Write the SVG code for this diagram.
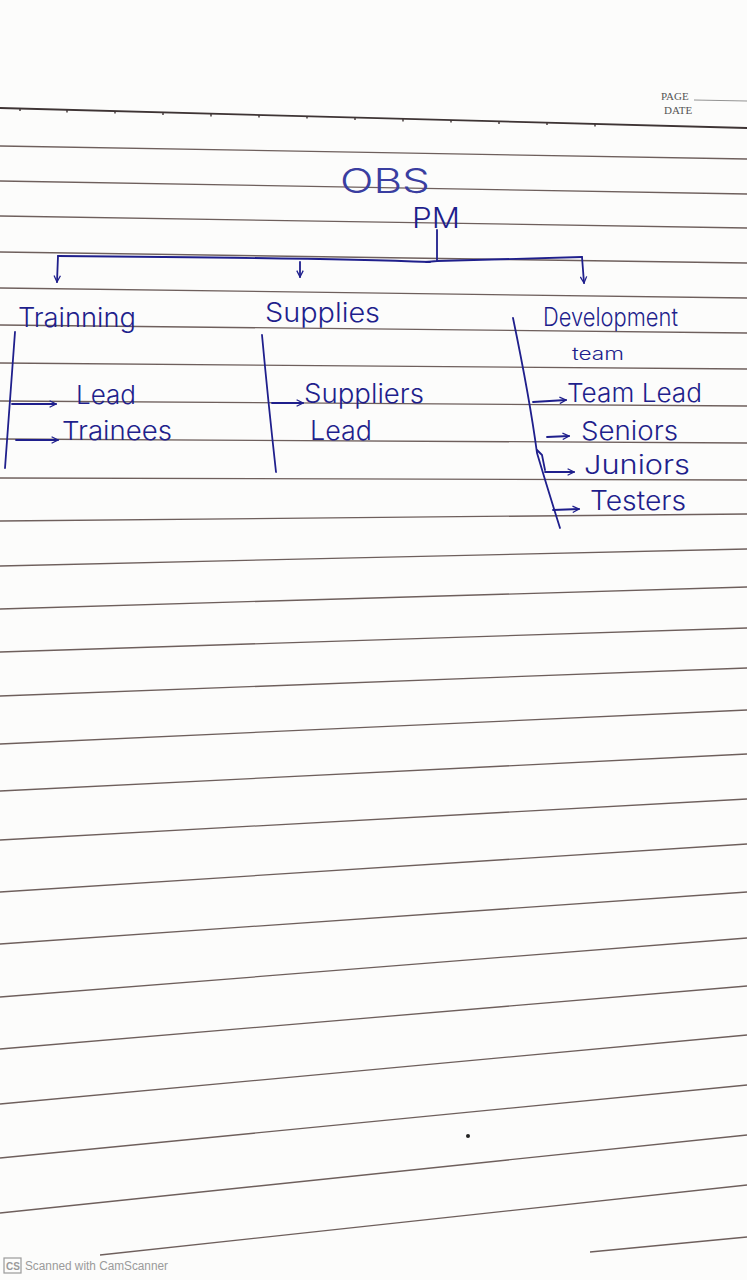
<svg xmlns="http://www.w3.org/2000/svg" width="747" height="1280" viewBox="0 0 747 1280">
<style>
.paper{fill:#fcfcfb}
.rule{stroke:#6e5f5c;stroke-width:1.3;fill:none}
.rule-top{stroke:#3e3434;stroke-width:1.8;fill:none}
.tick{stroke:#3e3434;stroke-width:1.4}
.ink{font-family:Inter,"Open Sans","DejaVu Sans",sans-serif;font-weight:300;fill:#1f1f8c}
.ink-light{font-family:Inter,"Open Sans","DejaVu Sans",sans-serif;font-weight:300;fill:#3a3ea0}
.pen{stroke:#1f1f8c;stroke-width:1.8;fill:none;stroke-linecap:round;stroke-linejoin:round}
.print{font-family:"Liberation Serif",serif;font-size:11px;fill:#555}
.wm{font-family:"Liberation Sans",Arial,sans-serif;fill:#9a9a9a}
</style>
<defs>
<marker id="ah" viewBox="0 0 10 10" refX="9" refY="5" markerWidth="8" markerHeight="8" markerUnits="userSpaceOnUse" orient="auto">
<path d="M1,1 L9,5 L1,9" fill="none" stroke="#1f1f8c" stroke-width="1.6"/>
</marker>
</defs>
<rect class="paper" x="0" y="0" width="747" height="1280"/>

<g id="ruled-lines">
<line class="rule-top" x1="0" y1="108" x2="747" y2="128"/>
<g class="tick">
<line x1="20" y1="108.5" x2="20" y2="111"/><line x1="67" y1="110" x2="67" y2="112.5"/><line x1="115" y1="111" x2="115" y2="113.5"/><line x1="163" y1="112.5" x2="163" y2="115"/><line x1="211" y1="114" x2="211" y2="116.5"/><line x1="259" y1="115" x2="259" y2="117.5"/><line x1="307" y1="116" x2="307" y2="118.5"/><line x1="355" y1="117.5" x2="355" y2="120"/><line x1="403" y1="119" x2="403" y2="121.5"/><line x1="451" y1="120" x2="451" y2="122.5"/><line x1="499" y1="121.5" x2="499" y2="124"/><line x1="547" y1="122.5" x2="547" y2="125"/><line x1="595" y1="124" x2="595" y2="126.5"/>
</g>
<line class="rule" x1="0" y1="146" x2="747" y2="159"/>
<line class="rule" x1="0" y1="181" x2="747" y2="194"/>
<line class="rule" x1="0" y1="216" x2="747" y2="228"/>
<line class="rule" x1="0" y1="252" x2="747" y2="263"/>
<line class="rule" x1="0" y1="288" x2="747" y2="298"/>
<line class="rule" x1="0" y1="325" x2="747" y2="333"/>
<line class="rule" x1="0" y1="363" x2="747" y2="369"/>
<line class="rule" x1="0" y1="401" x2="747" y2="406"/>
<line class="rule" x1="0" y1="439" x2="747" y2="443"/>
<line class="rule" x1="0" y1="478" x2="747" y2="480"/>
<line class="rule" x1="0" y1="521" x2="747" y2="514"/>
<line class="rule" x1="0" y1="566" x2="747" y2="549"/>
<line class="rule" x1="0" y1="609" x2="747" y2="587"/>
<line class="rule" x1="0" y1="652" x2="747" y2="628"/>
<line class="rule" x1="0" y1="696" x2="747" y2="668"/>
<line class="rule" x1="0" y1="744" x2="747" y2="710"/>
<line class="rule" x1="0" y1="791" x2="747" y2="754"/>
<line class="rule" x1="0" y1="840" x2="747" y2="799"/>
<line class="rule" x1="0" y1="892" x2="747" y2="844"/>
<line class="rule" x1="0" y1="944" x2="747" y2="892"/>
<line class="rule" x1="0" y1="997" x2="747" y2="938"/>
<line class="rule" x1="0" y1="1049" x2="747" y2="986"/>
<line class="rule" x1="0" y1="1104" x2="747" y2="1035"/>
<line class="rule" x1="0" y1="1158" x2="747" y2="1085"/>
<line class="rule" x1="0" y1="1213" x2="747" y2="1135"/>
<line class="rule" x1="100" y1="1255" x2="747" y2="1185"/>
<line class="rule" x1="590" y1="1252" x2="747" y2="1237"/>
<circle cx="468" cy="1136" r="2" fill="#222"/>
</g>

<g id="page-header">
<text class="print" x="661" y="100">PAGE</text>
<line x1="694" y1="100" x2="747" y2="101" stroke="#777" stroke-width="0.8"/>
<text class="print" x="664" y="114">DATE</text>
</g>

<g id="connectors">
<path class="pen" d="M437,230 L437,261 L426,262"/>
<path class="pen" d="M58,256 C200,257 350,259 430,262 M437,261 C500,259 550,258 582,257"/>
<path class="pen" d="M58,256 L57,282" marker-end="url(#ah)"/>
<path class="pen" d="M300,262 L300,277" marker-end="url(#ah)"/>
<path class="pen" d="M582,257 L584,283" marker-end="url(#ah)"/>
<path class="pen" d="M15,332 Q10,400 5,468"/>
<path class="pen" d="M12,404 L56,404" marker-end="url(#ah)"/>
<path class="pen" d="M16,440 L58,440" marker-end="url(#ah)"/>
<path class="pen" d="M262,335 Q268,400 276,472"/>
<path class="pen" d="M272,403 L303,403" marker-end="url(#ah)"/>
<path class="pen" d="M513,318 Q530,400 537,453 Q548,490 560,528"/>
<path class="pen" d="M533,402 L566,400" marker-end="url(#ah)"/>
<path class="pen" d="M547,437 L569,436" marker-end="url(#ah)"/>
<path class="pen" d="M537,450 L542,455 L545,470"/>
<path class="pen" d="M545,472 L574,472" marker-end="url(#ah)"/>
<path class="pen" d="M553,510 L579,509" marker-end="url(#ah)"/>
</g>

<g id="node-obs"><text class="ink-light" x="340" y="193" font-size="34" textLength="90" lengthAdjust="spacingAndGlyphs">OBS</text></g>
<g id="node-pm"><text class="ink" x="412" y="228" font-size="28" textLength="48" lengthAdjust="spacingAndGlyphs">PM</text></g>

<g id="node-training">
<text class="ink" x="18" y="327" font-size="27" textLength="118" lengthAdjust="spacingAndGlyphs">Trainning</text>
</g>
<g id="node-training-lead"><text class="ink" x="76" y="404" font-size="26" textLength="60" lengthAdjust="spacingAndGlyphs">Lead</text></g>
<g id="node-trainees"><text class="ink" x="62" y="440" font-size="26" textLength="110" lengthAdjust="spacingAndGlyphs">Trainees</text></g>

<g id="node-supplies"><text class="ink" x="265" y="322" font-size="27" textLength="115" lengthAdjust="spacingAndGlyphs">Supplies</text></g>
<g id="node-suppliers-lead">
<text class="ink" x="304" y="403" font-size="27" textLength="120" lengthAdjust="spacingAndGlyphs">Suppliers</text>
<text class="ink" x="310" y="440" font-size="27" textLength="62" lengthAdjust="spacingAndGlyphs">Lead</text>
</g>

<g id="node-development">
<text class="ink" x="543" y="326" font-size="25" textLength="135" lengthAdjust="spacingAndGlyphs">Development</text>
<text class="ink" x="572" y="360" font-size="17" textLength="52" lengthAdjust="spacingAndGlyphs">team</text>
</g>
<g id="node-team-lead"><text class="ink" x="567" y="402" font-size="26" textLength="135" lengthAdjust="spacingAndGlyphs">Team Lead</text></g>
<g id="node-seniors"><text class="ink" x="581" y="440" font-size="26" textLength="97" lengthAdjust="spacingAndGlyphs">Seniors</text></g>
<g id="node-juniors"><text class="ink" x="584" y="474" font-size="26" textLength="106" lengthAdjust="spacingAndGlyphs">Juniors</text></g>
<g id="node-testers"><text class="ink" x="590" y="510" font-size="27" textLength="96" lengthAdjust="spacingAndGlyphs">Testers</text></g>

<g id="watermark">
<rect x="4" y="1258" width="17" height="15" fill="none" stroke="#9a9a9a" stroke-width="1.2"/>
<text class="wm" x="6" y="1270" font-size="10" font-weight="bold">CS</text>
<text class="wm" x="25" y="1270" font-size="12" textLength="143" lengthAdjust="spacingAndGlyphs">Scanned with CamScanner</text>
</g>
</svg>
